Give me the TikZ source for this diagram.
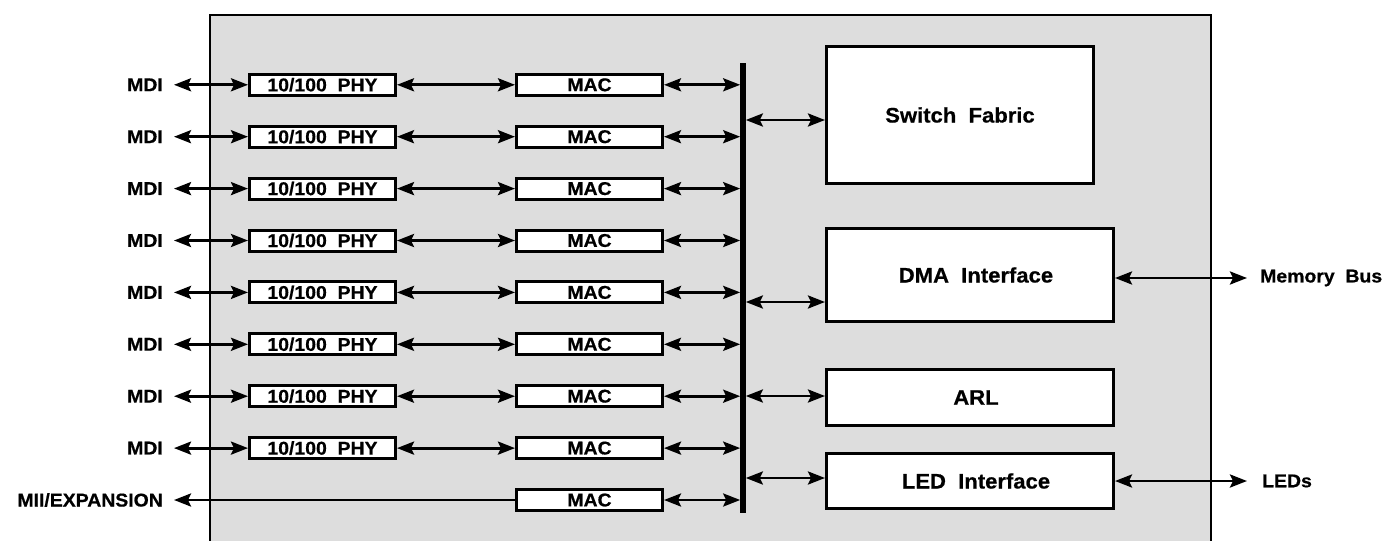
\documentclass[tikz,border=0pt]{standalone}
\usepackage{fontspec}
\setmainfont{Liberation Sans}[FakeStretch=1.05,WordSpace=2,FakeBold=0.6]
\usetikzlibrary{arrows.meta}
\definecolor{chipgray}{RGB}{221,221,221}
\begin{document}
\begin{tikzpicture}[x=1pt,y=-1pt,
  >={Stealth[length=17pt,width=13pt,inset=3pt]},
  smallbox/.style={draw,line width=3pt,fill=white,minimum width=146pt,minimum height=21pt,inner sep=0pt,font=\fontsize{18.5}{19}\selectfont\bfseries},
  bigbox/.style={draw,line width=3pt,fill=white,inner sep=0pt,minimum width=287pt,font=\fontsize{21}{23}\selectfont\bfseries},
  lab/.style={font=\fontsize{18.5}{19}\selectfont\bfseries,inner sep=0pt},
  link/.style={line width=2.8pt,<->},
]
\useasboundingbox (0,0) rectangle (1385,541);
\clip (0,0) rectangle (1385,541);
\node[draw,line width=2.2pt,fill=chipgray,minimum width=1001pt,minimum height=560pt,anchor=north west,inner sep=0pt] (chip) at (209,14) {};

% bus
\coordinate (bustop) at (743,63);
\coordinate (busbot) at (743,513);
\coordinate (busL) at (740.2,63);
\coordinate (busR) at (745.8,63);
\draw[line width=5.6pt] (bustop) -- (busbot);

\foreach \i in {1,...,8}{
  \pgfmathsetmacro{\yy}{84.8+51.9*(\i-1)}
  \node[lab,anchor=east] (mdi\i) at (163,\yy) {MDI};
  \node[smallbox] (phy\i) at (322.5,\yy) {10/100 PHY};
  \node[smallbox] (mac\i) at (589.5,\yy) {MAC};
  \draw[link] ([xshift=11pt]mdi\i.east) -- (phy\i.west);
  \draw[link] (phy\i.east) -- (mac\i.west);
  \draw[link] (mac\i.east) -- (mac\i.east -| busL);
}
\node[lab,anchor=east] (mii) at (163,500) {MII/EXPANSION};
\node[smallbox] (mac9) at (589.5,500) {MAC};
\draw[line width=2.8pt,<-] ([xshift=11pt]mii.east) -- (mac9.west);
\draw[link] (mac9.east) -- (mac9.east -| busL);

% right side blocks
\node[bigbox,minimum width=267pt,minimum height=137pt] (sf) at (960,115) {Switch Fabric};
\node[bigbox,minimum height=93pt] (dma) at (970,275) {\hspace*{12pt}DMA Interface};
\node[bigbox,minimum height=56pt] (arl) at (970,397.5) {\hspace*{12pt}ARL};
\node[bigbox,minimum height=55pt] (led) at (970,481) {\hspace*{12pt}LED Interface};

\draw[link] ([yshift=-5pt]sf.west -| busR) -- ([yshift=-5pt]sf.west);
\draw[link] ([yshift=-27pt]dma.west -| busR) -- ([yshift=-27pt]dma.west);
\draw[link] ([yshift=1.5pt]arl.west -| busR) -- ([yshift=1.5pt]arl.west);
\draw[link] ([yshift=3pt]led.west -| busR) -- ([yshift=3pt]led.west);

% external
\node[lab,anchor=west] (membus) at (1260,278) {Memory Bus};
\node[lab,anchor=west] (leds) at (1262,481) {LEDs};
\draw[link] ([yshift=-3pt]dma.east) -- ([xshift=-13pt]membus.west);
\draw[link] (led.east) -- ([xshift=-15pt]leds.west);
\end{tikzpicture}
\end{document}
